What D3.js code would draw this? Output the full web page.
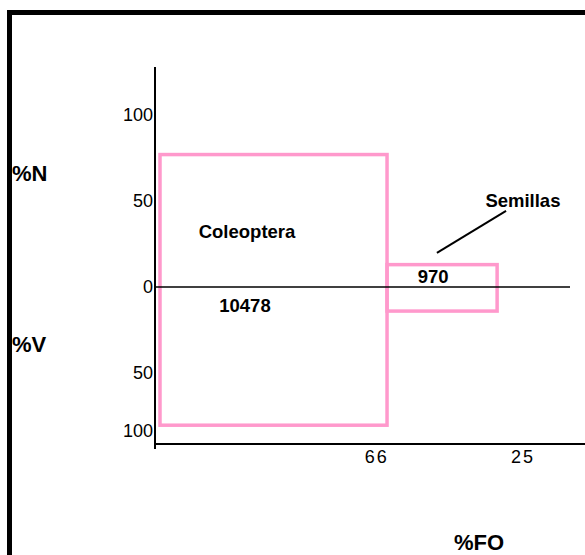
<!DOCTYPE html>
<html>
<head>
<meta charset="utf-8">
<script src="https://cdn.jsdelivr.net/npm/d3@7"></script>
<style>
  body { margin: 0; background: #fff; }
  svg { display: block; font-family: 'Liberation Sans', Arial, sans-serif; }
</style>
</head>
<body>
<div id="chart"></div>
<script>
// prey categories and their values
const categories = ['Coleoptera', 'Semillas']
const foWidths = [66, 32]          // box widths along %FO
const nValues = [77, 13]           // %N (upper half)
const vValues = [95, 14]           // %V (lower half)
const counts = ['10478', '970']

const yTicksN = [0, 50, 100]
const yTicksV = [50, 100]
const xTickValues = [63, 105.5]
const xTickLabels = ['66', '25']

const width = 585
const height = 555

const svg = d3
  .select('#chart')
  .append('svg')
  .attr('width', width)
  .attr('height', height)

// outer frame, cut by the right and bottom edges
svg
  .append('rect')
  .attr('x', 9.5)
  .attr('y', 12.5)
  .attr('width', 700)
  .attr('height', 700)
  .attr('fill', 'none')
  .attr('stroke', '#000')
  .attr('stroke-width', 5)

const xScale = d3.scaleLinear().domain([0, 100]).range([160, 504])
const yN = d3.scaleLinear().domain([0, 50, 100]).range([287, 201, 115])
const yV = d3.scaleLinear().domain([0, 50, 100]).range([287, 373, 431])

const axisX = 155
const baseY = 444

// tick labels
const axN = svg
  .append('g')
  .attr('transform', 'translate(' + axisX + ',0)')
  .call(d3.axisLeft(yN).tickValues(yTicksN).tickSize(0).tickPadding(2))
const axV = svg
  .append('g')
  .attr('transform', 'translate(' + axisX + ',0)')
  .call(d3.axisLeft(yV).tickValues(yTicksV).tickSize(0).tickPadding(2))

;[axN, axV].forEach(ax => {
  ax.select('.domain').remove()
  ax.selectAll('text')
    .attr('font-size', 18)
    .attr('font-family', 'Liberation Sans, Arial, sans-serif')
    .attr('fill', '#000')
})

// x tick labels
svg
  .selectAll('.x-tick')
  .data(xTickValues)
  .enter()
  .append('text')
  .attr('class', 'x-tick')
  .attr('x', d => xScale(d))
  .attr('y', 463)
  .attr('text-anchor', 'middle')
  .attr('font-size', 18)
  .attr('letter-spacing', 2)
  .text((d, i) => xTickLabels[i])

// boxes, placed one after another along %FO
let start = 0
const boxes = categories.map((c, i) => {
  const b = { name: c, x0: start, x1: start + foWidths[i], n: nValues[i], v: vValues[i] }
  start += foWidths[i]
  return b
})

svg
  .selectAll('.box')
  .data(boxes)
  .enter()
  .append('rect')
  .attr('class', 'box')
  .attr('x', d => xScale(d.x0))
  .attr('y', d => yN(d.n))
  .attr('width', d => xScale(d.x1) - xScale(d.x0))
  .attr('height', d => yV(d.v) - yN(d.n))
  .attr('fill', 'none')
  .attr('stroke', '#ff99cc')
  .attr('stroke-width', 3.5)

// axes lines
svg
  .append('line')
  .attr('x1', axisX)
  .attr('x2', axisX)
  .attr('y1', 67)
  .attr('y2', 449)
  .attr('stroke', '#000')
  .attr('stroke-width', 2)

svg
  .append('line')
  .attr('x1', axisX)
  .attr('x2', width)
  .attr('y1', baseY)
  .attr('y2', baseY)
  .attr('stroke', '#000')
  .attr('stroke-width', 2)

svg
  .append('line')
  .attr('x1', axisX)
  .attr('x2', 570)
  .attr('y1', yN(0))
  .attr('y2', yN(0))
  .attr('stroke', '#000')
  .attr('stroke-width', 1.6)

// labels on the boxes
svg
  .append('text')
  .attr('x', xScale(25.3))
  .attr('y', yN(28.5))
  .attr('text-anchor', 'middle')
  .attr('font-size', 18.5)
  .attr('font-weight', 700)
  .text(categories[0])

svg
  .append('text')
  .attr('x', xScale(24.7))
  .attr('y', yV(14.5))
  .attr('text-anchor', 'middle')
  .attr('font-size', 18.5)
  .attr('font-weight', 700)
  .text(counts[0])

svg
  .append('text')
  .attr('x', xScale(79.4))
  .attr('y', yN(2.3))
  .attr('text-anchor', 'middle')
  .attr('font-size', 18.5)
  .attr('font-weight', 700)
  .text(counts[1])

svg
  .append('text')
  .attr('x', xScale(105.5))
  .attr('y', yN(46.5))
  .attr('text-anchor', 'middle')
  .attr('font-size', 18.5)
  .attr('font-weight', 700)
  .text(categories[1])

// leader line to Semillas
svg
  .append('line')
  .attr('x1', xScale(80.5))
  .attr('y1', yN(19.8))
  .attr('x2', xScale(100.6))
  .attr('y2', yN(44.2))
  .attr('stroke', '#000')
  .attr('stroke-width', 2)

// axis titles
const titles = [
  { t: '%N', x: 12, y: 181, a: 'start' },
  { t: '%V', x: 12, y: 352, a: 'start' },
  { t: '%FO', x: 479, y: 550, a: 'middle' }
]
svg
  .selectAll('.title')
  .data(titles)
  .enter()
  .append('text')
  .attr('class', 'title')
  .attr('x', d => d.x)
  .attr('y', d => d.y)
  .attr('text-anchor', d => d.a)
  .attr('font-size', 22)
  .attr('font-weight', 700)
  .text(d => d.t)
</script>
</body>
</html>
